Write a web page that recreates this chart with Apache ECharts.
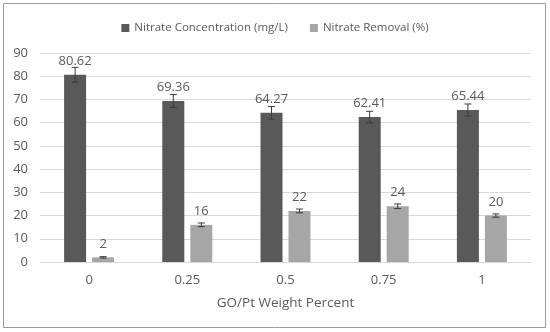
<!DOCTYPE html>
<html><head><meta charset="utf-8">
<script src="https://cdn.jsdelivr.net/npm/echarts@6/dist/echarts.min.js"></script>
<style>html,body{margin:0;padding:0;background:#fff}#c{width:550px;height:332px}</style>
</head><body><div id="c"></div>
<script>
var categories = ['0', '0.25', '0.5', '0.75', '1'];
var concentration = [80.62, 69.36, 64.27, 62.41, 65.44];
var concentrationErr = [3.2, 2.8, 2.7, 2.5, 2.6];
var removal = [2, 16, 22, 24, 20];
var removalErr = [0.3, 0.8, 0.8, 1.0, 0.7];
var yTicks = [0, 10, 20, 30, 40, 50, 60, 70, 80, 90];

var BAR_W = 22, BAR_GAP = 6;
var FONT = '"Open Sans", sans-serif';
var TXT = '#595959';

function errSeries(vals, errs, sign) {
  return {
    type: 'custom',
    z: 5,
    data: vals.map(function (v, i) { return [i, v - errs[i], v + errs[i]]; }),
    renderItem: function (params, api) {
      var off = sign * (BAR_W + BAR_GAP) / 2;
      var lo = api.coord([api.value(0), api.value(1)]);
      var hi = api.coord([api.value(0), api.value(2)]);
      var x = lo[0] + off, c = 3.5;
      var st = { stroke: '#3a3a3a', lineWidth: 1 };
      return { type: 'group', children: [
        { type: 'line', shape: { x1: x, y1: lo[1], x2: x, y2: hi[1] }, style: st },
        { type: 'line', shape: { x1: x - c, y1: lo[1], x2: x + c, y2: lo[1] }, style: st },
        { type: 'line', shape: { x1: x - c, y1: hi[1], x2: x + c, y2: hi[1] }, style: st }
      ]};
    },
    encode: { x: 0, y: [1, 2] },
    silent: true
  };
}

var chart = echarts.init(document.getElementById('c'));
chart.setOption({
  animation: false,
  textStyle: { fontFamily: FONT },
  graphic: [{ type: 'rect', shape: { x: 3.5, y: 3.5, width: 542, height: 324 }, style: { fill: 'none', stroke: '#9a9a9a', lineWidth: 1 }, silent: true }],
  legend: {
    top: 17, left: 'center', itemWidth: 8, itemHeight: 8, itemGap: 22,
    icon: 'rect',
    textStyle: { color: TXT, fontSize: 11.5, fontFamily: FONT },
    data: ['Nitrate Concentration (mg/L)', 'Nitrate Removal (%)']
  },
  grid: { left: 40, right: 19, top: 53, bottom: 70 },
  xAxis: {
    type: 'category', data: categories,
    name: 'GO/Pt Weight Percent', nameLocation: 'middle', nameGap: 34,
    nameTextStyle: { color: TXT, fontSize: 13.5, fontFamily: FONT },
    axisLine: { lineStyle: { color: '#d9d9d9' } },
    axisTick: { show: false },
    axisLabel: { color: TXT, fontSize: 13, margin: 12, fontFamily: FONT }
  },
  yAxis: {
    type: 'value', min: yTicks[0], max: yTicks[yTicks.length - 1], interval: 10,
    axisLine: { show: false }, axisTick: { show: false },
    axisLabel: { color: TXT, fontSize: 13, margin: 12, fontFamily: FONT },
    splitLine: { lineStyle: { color: '#d9d9d9' } }
  },
  series: [
    { name: 'Nitrate Concentration (mg/L)', type: 'bar', data: concentration, barWidth: BAR_W, barGap: (BAR_GAP / BAR_W * 100) + '%',
      itemStyle: { color: '#595959' },
      label: { show: true, position: 'top', distance: 7, color: TXT, fontSize: 13, fontFamily: FONT } },
    { name: 'Nitrate Removal (%)', type: 'bar', data: removal, barWidth: BAR_W,
      itemStyle: { color: '#a6a6a6' },
      label: { show: true, position: 'top', distance: 7, color: TXT, fontSize: 13, fontFamily: FONT } },
    errSeries(concentration, concentrationErr, -1),
    errSeries(removal, removalErr, 1)
  ]
});
</script></body></html>
